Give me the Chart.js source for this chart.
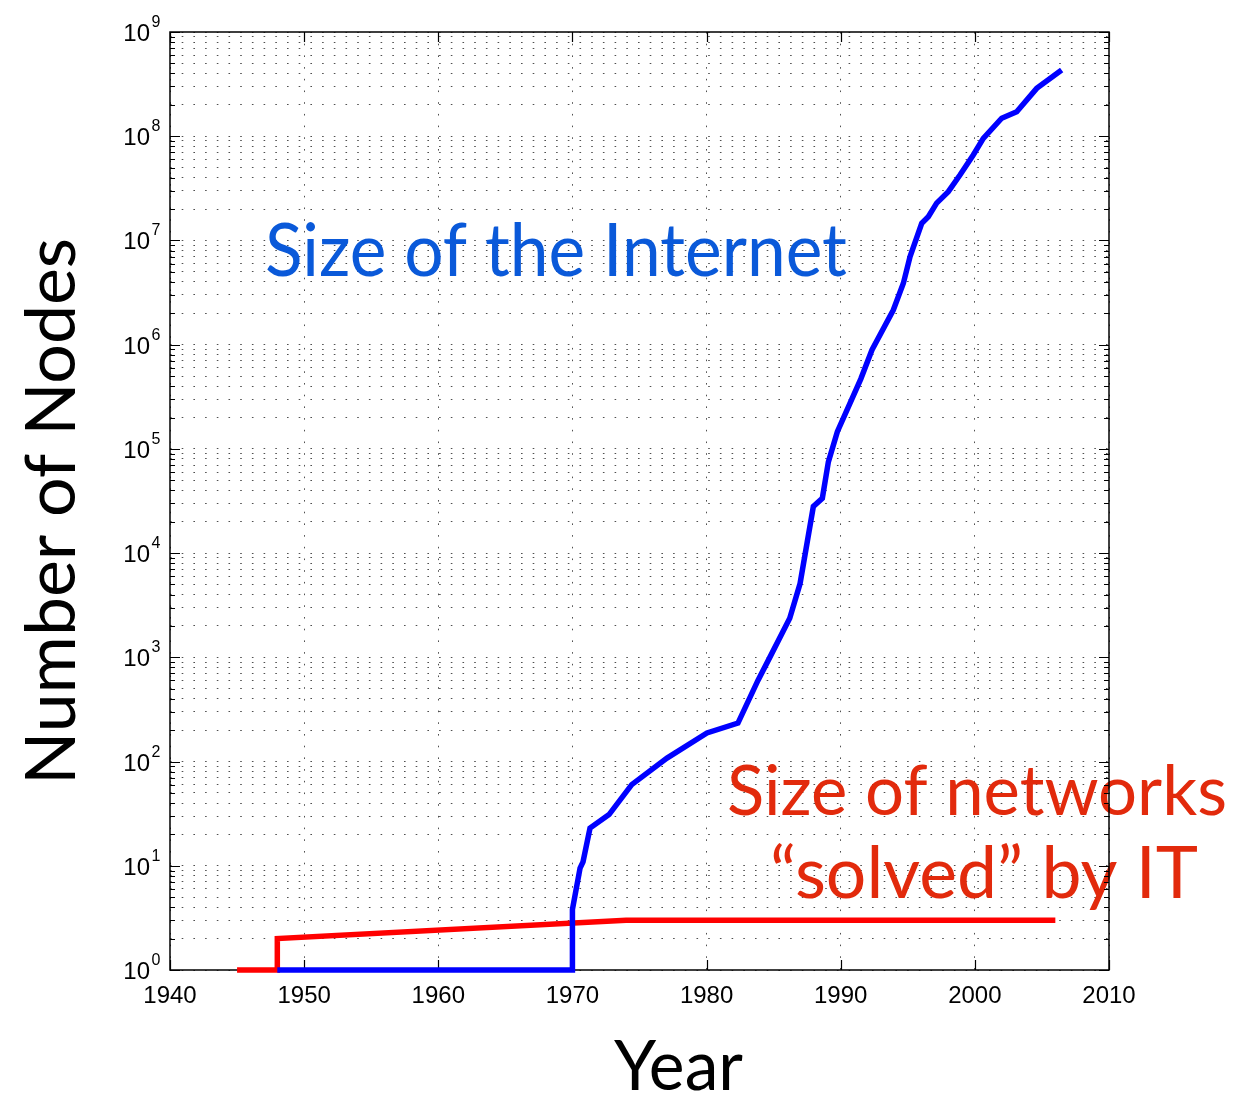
<!DOCTYPE html>
<html>
<head>
<meta charset="utf-8">
<title>Number of Nodes vs Year</title>
<script src="https://cdn.jsdelivr.net/npm/chart.js@4.4.1/dist/chart.umd.min.js"></script>
<style>
  html, body { margin: 0; padding: 0; background: #ffffff; }
  #wrap { width: 1239px; height: 1096px; }
  canvas { display: block; }
</style>
</head>
<body>
<div id="wrap"><canvas id="chart" width="1239" height="1096"></canvas></div>
<script>
// Hosts connected to the Internet, by year
const internetYears = [1948, 1970, 1970, 1970.57, 1970.79, 1971.31, 1972.73, 1974.42, 1977.05,
  1980.03, 1982.34, 1983.83, 1984.8, 1986.2, 1986.97, 1987.96, 1988.63, 1989.08, 1989.75,
  1991.5, 1992.33, 1993.92, 1994.67, 1995.17, 1996.04, 1996.53, 1997.15, 1998.02,
  1998.89, 1999.88, 2000.63, 2002.0, 2003.12, 2004.61, 2006.47];
const internetNodes = [1, 1, 3.8, 9.5, 10.9, 23, 31, 60, 108,
  188, 234, 600, 1050, 2370, 5100, 28000, 33600, 75000, 146000,
  470000, 890000, 2150000, 3880000, 7000000, 14600000, 16900000, 22800000, 29400000,
  42500000, 66000000, 95500000, 149000000, 172000000, 288000000, 432000000];

// Size of networks handled by IT methods, by year
const solvedYears = [1945, 1948, 1948, 1974, 2006];
const solvedNodes = [1, 1, 2, 3, 3];

// Axis ticks
const xTickYears = [1940, 1950, 1960, 1970, 1980, 1990, 2000, 2010];
const yDecades = [1, 10, 100, 1e3, 1e4, 1e5, 1e6, 1e7, 1e8, 1e9];
const yMinorSteps = [2, 3, 4, 5, 6, 7, 8, 9];

// Every grid value on the log axis: decades plus their 2..9 multiples
const yGridValues = [];
yDecades.forEach((d, i) => {
  yGridValues.push(d);
  if (i < yDecades.length - 1) yMinorSteps.forEach(m => yGridValues.push(m * d));
});

const TICK_FONT = '"Liberation Sans", Arial, Helvetica, sans-serif';
const TEXT_FONT = 'Lato, "Open Sans", sans-serif';
const CAP_RATIO = 0.717;

// Draw text with a given cap height, stretched to a given run length
function fittedText(ctx, text, capH, runLength, color) {
  const size = capH / CAP_RATIO;
  ctx.font = size + 'px ' + TEXT_FONT;
  const w = ctx.measureText(text).width;
  ctx.scale(runLength / w, 1);
  ctx.fillStyle = color;
  ctx.textAlign = 'left';
  ctx.textBaseline = 'alphabetic';
  ctx.fillText(text, 0, 0);
}

const framePlugin = {
  id: 'frameAndLabels',
  beforeDatasetsDraw(chart) {
    const ctx = chart.ctx;
    const { left, right, top, bottom } = chart.chartArea;
    const xs = chart.scales.x, ys = chart.scales.y;

    // Annotations (under the frame)
    ctx.save(); ctx.translate(265, 276);
    fittedText(ctx, 'Size of the Internet', 53, 582, '#0a59d9'); ctx.restore();
    ctx.save(); ctx.translate(727, 815);
    fittedText(ctx, 'Size of networks', 50, 500, '#e22a0c'); ctx.restore();
    ctx.save(); ctx.translate(770, 898);
    fittedText(ctx, '\u201Csolved\u201D by IT', 51, 428, '#e22a0c'); ctx.restore();

    // Axis titles
    ctx.save(); ctx.translate(75, 785); ctx.rotate(-Math.PI / 2);
    fittedText(ctx, 'Number of Nodes', 50, 547, '#000000'); ctx.restore();
    ctx.save(); ctx.translate(614, 1090);
    fittedText(ctx, 'Year', 50, 129, '#000000'); ctx.restore();

    // Frame
    ctx.save();
    ctx.strokeStyle = '#000000';
    ctx.lineWidth = 1.5;
    ctx.strokeRect(left, top, right - left, bottom - top);

    // Inward tick marks
    ctx.lineWidth = 1.2;
    ctx.beginPath();
    yGridValues.forEach(v => {
      const y = Math.round(ys.getPixelForValue(v)) + 0.5;
      const len = yDecades.includes(v) ? 10 : 5;
      ctx.moveTo(left, y); ctx.lineTo(left + len, y);
      ctx.moveTo(right, y); ctx.lineTo(right - len, y);
    });
    xTickYears.forEach(v => {
      const x = Math.round(xs.getPixelForValue(v)) + 0.5;
      ctx.moveTo(x, bottom); ctx.lineTo(x, bottom - 10);
      ctx.moveTo(x, top); ctx.lineTo(x, top + 10);
    });
    ctx.stroke();

    // Tick labels
    ctx.fillStyle = '#000000';
    ctx.textBaseline = 'alphabetic';
    ctx.font = '24px ' + TICK_FONT;
    ctx.textAlign = 'center';
    xTickYears.forEach(v => {
      ctx.fillText(String(v), xs.getPixelForValue(v), bottom + 33);
    });
    yDecades.forEach(v => {
      const y = ys.getPixelForValue(v);
      ctx.font = '24px ' + TICK_FONT;
      ctx.textAlign = 'right';
      ctx.fillText('10', left - 20, y + 9);
      ctx.font = '16px ' + TICK_FONT;
      ctx.textAlign = 'left';
      ctx.fillText(String(Math.round(Math.log10(v))), left - 18.5, y - 5);
    });
    ctx.restore();
  }
};

const gridStyle = { color: '#505050', lineWidth: 1, drawTicks: false };
const gridBorder = { display: false, dash: [1.6, 10.1] };

new Chart(document.getElementById('chart').getContext('2d'), {
  type: 'line',
  data: {
    datasets: [
      {
        label: 'Size of the Internet',
        data: internetYears.map((x, i) => ({ x, y: internetNodes[i] })),
        borderColor: '#0000ff',
        borderWidth: 5.5,
        pointRadius: 0,
        tension: 0,
        fill: false,
        clip: false
      },
      {
        label: 'Size of networks solved by IT',
        data: solvedYears.map((x, i) => ({ x, y: solvedNodes[i] })),
        borderColor: '#ff0000',
        borderWidth: 5.5,
        pointRadius: 0,
        tension: 0,
        fill: false,
        clip: false
      }
    ]
  },
  options: {
    responsive: false,
    animation: false,
    devicePixelRatio: 1,
    events: [],
    layout: { padding: { left: 170, top: 32, right: 130, bottom: 126 } },
    plugins: { legend: { display: false }, tooltip: { enabled: false } },
    scales: {
      x: {
        type: 'linear', min: 1940, max: 2010,
        afterBuildTicks: s => { s.ticks = xTickYears.map(v => ({ value: v })); },
        ticks: { display: false },
        grid: gridStyle,
        border: gridBorder
      },
      y: {
        type: 'logarithmic', min: 1, max: 1e9,
        afterBuildTicks: s => { s.ticks = yGridValues.map(v => ({ value: v })); },
        ticks: { display: false },
        grid: gridStyle,
        border: gridBorder
      }
    }
  },
  plugins: [framePlugin]
});
</script>
</body>
</html>
